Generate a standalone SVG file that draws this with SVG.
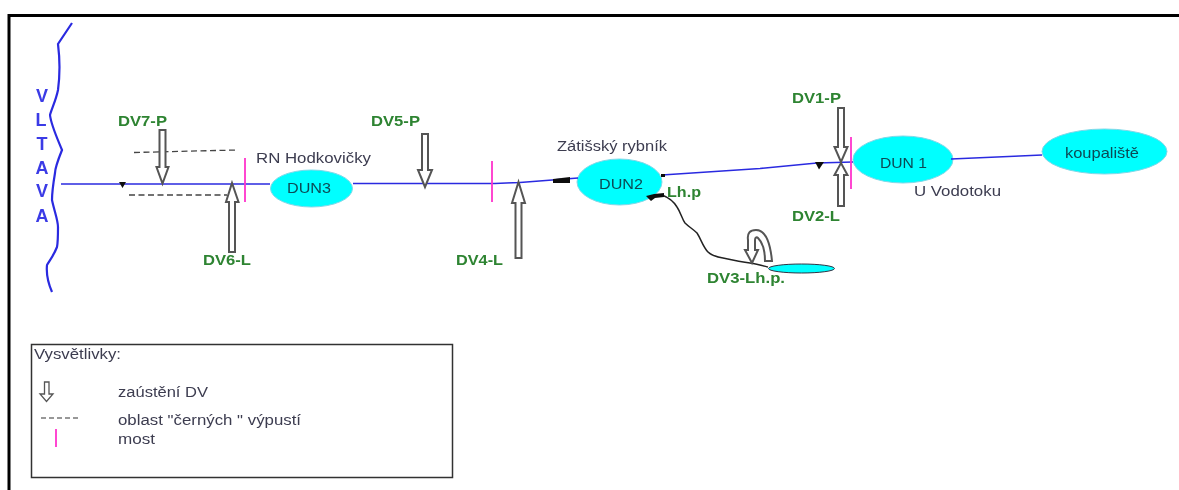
<svg xmlns="http://www.w3.org/2000/svg" width="1179" height="490" viewBox="0 0 1179 490">
<defs>
<style>
text{font-family:"Liberation Sans",Arial,sans-serif}
.dv{font-size:14.5px;font-weight:bold;fill:#2e8432}
.lbl{font-size:14px;fill:#3c3c50}
.node{font-size:14.5px;fill:#0b4a55}
.pond{fill:#00ffff;stroke:#7fd8e8;stroke-width:1}
.river{fill:none;stroke:#2a2ae0;stroke-width:1.6}
.bridge{stroke:#ff33cc;stroke-width:1.8;fill:none}
.dash{stroke:#444;stroke-width:1.3;stroke-dasharray:6 3.5;fill:none}
.arr{fill:#fff;stroke:#555;stroke-width:2;stroke-linejoin:miter}
.vl{font-size:18px;font-weight:bold;fill:#3a3ae6;text-anchor:middle}
.head{fill:#111}
</style>
<filter id="soft" x="0" y="0" width="100%" height="100%" filterUnits="objectBoundingBox"><feGaussianBlur stdDeviation="0.45"/></filter>
</defs>
<rect width="1179" height="490" fill="#fff"/>
<g filter="url(#soft)">
<rect width="1179" height="490" fill="#fff"/>
<path d="M9,490V15.500H1179" fill="none" stroke="#000" stroke-width="3"/>
<g id="node-dun3"><ellipse class="pond" cx="311.500" cy="188.500" rx="41" ry="18.500"/><text class="node" x="287" y="193" textLength="44" lengthAdjust="spacingAndGlyphs">DUN3</text></g>
<g id="node-dun2"><ellipse class="pond" cx="619.500" cy="182" rx="42.500" ry="23"/><text class="node" x="599" y="189" textLength="44" lengthAdjust="spacingAndGlyphs">DUN2</text></g>
<g id="node-dun1"><ellipse class="pond" cx="903" cy="159.500" rx="50" ry="23.500"/><text class="node" x="880" y="168" textLength="47" lengthAdjust="spacingAndGlyphs">DUN 1</text></g>
<g id="node-koupaliste"><ellipse class="pond" cx="1104.500" cy="151.500" rx="62.500" ry="22.500"/><text class="node" x="1065" y="158" textLength="74" lengthAdjust="spacingAndGlyphs">koupaliště</text></g>
<g id="node-lhp"><ellipse class="pond" style="stroke:#334" cx="801.500" cy="268.500" rx="33" ry="4.500"/></g>
<g id="connectors">
<path id="vltava" class="river" style="stroke-width:2.200" d="M72,23L58,44C60,60 60,75 58,90C56,100 52,108 50,115C51,125 58,140 62,150C58,160 55,170 55,173C53,185 52,192 52,200C54,210 58,220 58,227C58,235 58,242 57,247C54,255 50,260 47,265C46,275 49,285 52,292"/>
<path class="river" d="M61,184H270M353,183.500H495L520,182.500L578,178"/>
<path class="river" d="M662,175L760,168.500L817,163L853,162"/>
<path class="river" d="M951,159L1042,155"/>
<path d="M662,195C670,198 674,202 677,207C681,213 682,219 685,223C689,227 693,229 697,233C701,239 703,247 708,252C712,256 717,257 723,258C732,260 741,262 750,263C757,264 764,266 768,267" fill="none" stroke="#222" stroke-width="1.500"/>
<path class="head" d="M119,182H126L122.500,188ZM815,162H824L819,169.500ZM553,179L570,177L570,183L553,183ZM646,196L654,194L664,193L664,197L655,198L651,201ZM661,174H665V177H661Z"/>
<path class="dash" d="M134,152.500L237,150M129,195H227"/>
<path class="bridge" d="M245,158V202M492,161V202M851,137V189"/>
<g class="arr">
<path id="arrow-dv7" d="M159.500,130H165.500V167H168.500L162.500,183.500L156.500,167H159.500Z"/>
<path id="arrow-dv5" d="M422,134H428V170H432L425,187L418,170H422Z"/>
<path id="arrow-dv1" d="M838,108H844V147H847.500L841,162L834.500,147H838Z"/>
<path id="arrow-dv6" d="M229,252V202H226L232,183L238.500,202H235V252Z"/>
<path id="arrow-dv4" d="M515.500,258V203H512L518.500,182L525,203H521.500V258Z"/>
<path id="arrow-dv2" d="M838,206V175H834.500L841,163L847.500,175H844V206Z"/>
<path id="arrow-dv3" d="M772,261C770,240 764,230 756,230C750,230 747,233 748,240V250H745L752,263L758,250H755V240C755,237 757,237 758,238C762,242 765,250 765,261Z"/>
</g>
</g>
<g id="labels">
<text class="vl" x="42" y="102">V</text><text class="vl" x="41" y="126">L</text><text class="vl" x="42" y="150">T</text><text class="vl" x="42" y="174">A</text><text class="vl" x="42" y="197">V</text><text class="vl" x="42" y="222">A</text>
<text class="dv" x="118" y="126" textLength="49" lengthAdjust="spacingAndGlyphs">DV7-P</text>
<text class="dv" x="371" y="126" textLength="49" lengthAdjust="spacingAndGlyphs">DV5-P</text>
<text class="dv" x="203" y="265" textLength="48" lengthAdjust="spacingAndGlyphs">DV6-L</text>
<text class="dv" x="456" y="265" textLength="47" lengthAdjust="spacingAndGlyphs">DV4-L</text>
<text class="dv" x="792" y="103" textLength="49" lengthAdjust="spacingAndGlyphs">DV1-P</text>
<text class="dv" x="792" y="221" textLength="48" lengthAdjust="spacingAndGlyphs">DV2-L</text>
<text class="dv" x="707" y="283" textLength="78" lengthAdjust="spacingAndGlyphs">DV3-Lh.p.</text>
<text class="dv" x="667" y="197" textLength="34" lengthAdjust="spacingAndGlyphs">Lh.p</text>
<text class="lbl" x="256" y="163" textLength="115" lengthAdjust="spacingAndGlyphs">RN Hodkovičky</text>
<text class="lbl" x="557" y="151" textLength="110" lengthAdjust="spacingAndGlyphs">Zátišský rybník</text>
<text class="lbl" x="914" y="196" textLength="87" lengthAdjust="spacingAndGlyphs">U Vodotoku</text>
</g>
<g id="legend">
<rect x="31.500" y="344.500" width="421" height="133" fill="none" stroke="#333" stroke-width="1.500"/>
<text class="lbl" x="34" y="359" textLength="87" lengthAdjust="spacingAndGlyphs">Vysvětlivky:</text>
<path class="arr" style="stroke-width:1.300" d="M44.500,382H49V394H53L46.500,401.500L40,394H44.500Z"/>
<text class="lbl" x="118" y="397" textLength="90" lengthAdjust="spacingAndGlyphs">zaústění DV</text>
<path class="dash" style="stroke-dasharray:5 3;stroke:#777" d="M41,418H80"/>
<text class="lbl" x="118" y="425" textLength="183" lengthAdjust="spacingAndGlyphs">oblast "černých " výpustí</text>
<path class="bridge" d="M56,429V447"/>
<text class="lbl" x="118" y="444" textLength="37" lengthAdjust="spacingAndGlyphs">most</text>
</g>
</g>
</svg>
